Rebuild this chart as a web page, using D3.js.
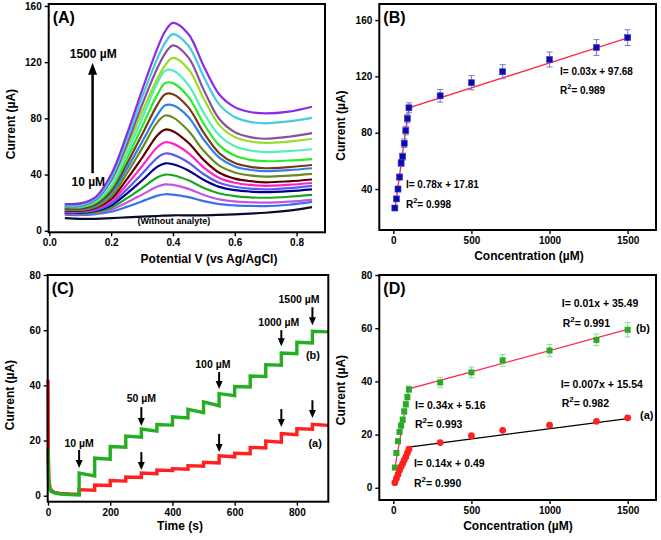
<!DOCTYPE html>
<html lang="en">
<head>
<meta charset="UTF-8">
<title>Sensor response panels</title>
<script src="https://d3js.org/d3.v7.min.js"></script>
<style>
  body { margin: 0; background: #fff; }
  svg { display: block; font-family: "Liberation Sans", Arial, sans-serif; font-weight: bold; }
  .axis text { font-family: "Liberation Sans", Arial, sans-serif; font-size: 10px; font-weight: bold; fill: #000; }
  .axis line { stroke: #000; stroke-width: 1.4; }
</style>
</head>
<body>
<svg id="chart" width="661" height="540"></svg>
<script>
// ---------- (A) DPV curves ----------
const potentials = [0.05, 0.10, 0.15, 0.20, 0.25, 0.30, 0.35, 0.375, 0.40, 0.45, 0.50, 0.55, 0.60, 0.65, 0.70, 0.775, 0.85];
const dpvLabels = ["blank", "10", "20", "30", "40", "50", "60", "70", "80", "90", "100", "300", "500", "700", "1000", "1300", "1500"];
const dpvCurrents = [
  [9.0, 8.5, 8.5, 9.0, 9.5, 10.0, 10.5, 10.8, 11.0, 11.0, 11.0, 11.3, 11.7, 12.2, 12.8, 14.3, 16.8],
  [11.5, 11.2, 11.9, 13.5, 17.0, 20.9, 25.0, 26.0, 25.7, 23.9, 21.1, 19.0, 18.1, 17.7, 17.5, 18.5, 20.5],
  [12.0, 11.7, 12.6, 14.9, 20.0, 25.7, 31.5, 33.0, 32.6, 29.8, 25.5, 22.3, 20.9, 20.3, 20.0, 20.7, 22.0],
  [12.5, 12.2, 13.3, 16.4, 23.0, 30.4, 38.1, 40.0, 39.5, 35.9, 30.4, 26.5, 24.7, 23.8, 23.5, 24.2, 25.5],
  [13.0, 12.7, 14.1, 17.9, 26.3, 35.8, 45.6, 48.0, 47.3, 42.9, 36.1, 31.2, 28.9, 27.9, 27.5, 28.2, 29.5],
  [13.5, 13.2, 14.7, 19.3, 29.3, 40.5, 52.1, 55.0, 54.2, 48.6, 40.2, 34.1, 31.3, 30.0, 29.5, 30.4, 32.0],
  [14.0, 13.7, 15.5, 20.9, 32.6, 45.9, 59.6, 63.0, 62.0, 55.3, 45.0, 37.6, 34.2, 32.6, 32.0, 32.7, 34.0],
  [14.5, 14.2, 16.2, 22.6, 36.4, 51.9, 68.0, 72.0, 70.9, 62.6, 50.3, 41.3, 37.1, 35.3, 34.5, 35.2, 36.5],
  [15.0, 14.7, 17.0, 24.4, 40.5, 58.6, 77.3, 82.0, 80.7, 71.1, 56.8, 46.3, 41.5, 39.4, 38.5, 39.2, 40.5],
  [15.5, 15.2, 18.1, 26.7, 43.8, 63.2, 82.6, 89.3, 89.3, 81.0, 64.8, 52.0, 45.8, 43.4, 42.5, 43.2, 44.5],
  [16.0, 15.7, 18.9, 28.3, 47.2, 68.5, 89.8, 97.2, 97.2, 87.8, 69.6, 55.2, 48.2, 45.5, 44.5, 45.3, 46.8],
  [17.0, 16.7, 20.1, 30.4, 50.8, 74.0, 97.1, 105.1, 105.1, 95.3, 76.1, 60.8, 53.5, 50.5, 49.5, 50.0, 51.0],
  [17.5, 17.2, 20.9, 32.1, 54.6, 79.9, 105.3, 114.0, 114.0, 103.8, 83.7, 67.8, 60.1, 57.1, 56.0, 56.7, 58.0],
  [19.0, 19.0, 23.2, 35.6, 58.5, 84.5, 108.4, 117.8, 123.0, 115.1, 94.0, 75.2, 66.7, 63.5, 62.5, 63.5, 65.3],
  [17.5, 17.7, 22.1, 35.8, 61.0, 89.6, 116.0, 126.3, 132.0, 123.4, 100.1, 79.5, 70.2, 66.6, 65.5, 66.9, 69.5],
  [18.0, 18.2, 22.9, 37.5, 64.4, 94.9, 122.9, 133.9, 140.0, 131.7, 109.5, 89.8, 81.0, 77.5, 76.5, 77.8, 80.3],
  [19.0, 19.5, 24.0, 40.0, 68.0, 100.0, 130.0, 142.0, 148.0, 140.0, 117.0, 97.0, 88.0, 84.5, 83.5, 84.8, 88.3]
];
const dpvColors = ["#0a0a30", "#3a72e8", "#c455e6", "#1aa81a", "#00008f", "#5b5bf0", "#ff22c4", "#5e0000",
  "#6b8a1e", "#2f80e8", "#7a3a1a", "#28ec28", "#50eec0", "#99dd2a", "#8a4f9c", "#44ccdd", "#8a2be8"];

// ---------- (B) calibration, DPV ----------
const conc = [10, 20, 30, 40, 50, 60, 70, 80, 90, 100, 300, 500, 700, 1000, 1300, 1500];
const peakB = [26.5, 33, 40, 48.5, 58.5, 63, 72.5, 81.5, 90, 97.7, 106.2, 115.5, 123.3, 132, 140.5, 147.5];
const errB = [1.5, 1.5, 2, 2, 2.5, 2.5, 3, 3, 3, 3.5, 4.5, 5, 5, 5.3, 5.6, 5.6];
const fitB = [[10, 25.5], [100, 97.7], [1500, 147.3]];

// ---------- (C) amperometry ----------
const stepTimes = [100, 150, 200, 250, 300, 350, 400, 450, 500, 550, 600, 650, 700, 750, 800, 850];
const runEnd = 900;
const decayTimes = [0, 1, 3, 6, 10, 20, 40, 70, 100];
const greenDecay = [17, 8, 4, 2.5, 1.5, 1.0, 0.6, 0.4, 0.3];
const redDecay = [42, 15, 6, 3, 2, 1.2, 0.8, 0.6, 0.5];
const greenStart = [8.2, 13.6, 17.8, 21.6, 24.2, 25.8, 28.6, 31.3, 34.0, 37.0, 39.6, 43.4, 47.5, 51.7, 55.6, 59.6];
const greenEnd = [7.2, 13.2, 17.6, 21.2, 23.4, 25.6, 28.2, 30.1, 32.6, 36.3, 39.4, 43.2, 47.3, 51.5, 55.4, 59.4];
const redStart = [2.2, 3.9, 5.5, 6.8, 8.2, 9.3, 9.8, 10.9, 12.1, 14.5, 15.4, 17.5, 19.8, 22.5, 24.3, 25.9];
const redEnd = [2.0, 3.7, 5.3, 6.6, 8.0, 9.1, 9.6, 10.7, 11.9, 14.1, 15.2, 17.3, 19.4, 22.1, 24.1, 25.5];
// arrows: time, top and tip current, label
const arrowsGreen = [
  { t: 100, top: 16.6, tip: 10.0, label: "10 µM", lt: 100, ly: 17.8 },
  { t: 300, top: 32.1, tip: 25.3, label: "50 µM", lt: 300, ly: 34.0 },
  { t: 550, top: 44.8, tip: 38.7, label: "100 µM", lt: 530, ly: 46.4 },
  { t: 750, top: 60.0, tip: 54.2, label: "1000 µM", lt: 742, ly: 61.6 },
  { t: 850, top: 68.3, tip: 61.8, label: "1500 µM", lt: 807, ly: 70.0 }
];
const arrowsRed = [
  { t: 300, top: 15.8, tip: 9.3 }, { t: 550, top: 22.4, tip: 15.8 },
  { t: 750, top: 31.4, tip: 24.9 }, { t: 850, top: 34.6, tip: 28.2 }
];

// ---------- (D) calibration, amperometry ----------
const peakDb = [7.6, 13.1, 17.5, 21, 23.4, 25.6, 28.7, 31.4, 34.1, 37, 39.6, 43.4, 47.9, 51.6, 55.6, 59.4];
const errDb = [0.8, 0.8, 0.8, 0.9, 0.9, 1, 1, 1.1, 1.1, 1.2, 1.9, 2, 2.2, 2.3, 2.2, 2.7];
const peakDa = [1.9, 3.5, 5, 6.6, 7.9, 9.1, 10.4, 11.6, 13.1, 14.5, 17, 19.6, 21.6, 23.5, 25, 26.3];
const fitDb = [[10, 7.5], [100, 37.2], [1500, 59.6]];
const fitDa = [[10, 2.0], [100, 15.3], [1500, 26.0]];

const svg = d3.select("#chart");

function makePanel(box, xDom, yDom) {
  const x = d3.scaleLinear().domain(xDom).range([box.left, box.right]);
  const y = d3.scaleLinear().domain(yDom).range([box.bottom, box.top]);
  return { g: svg.append("g"), x, y, box };
}

function addAxes(p, xTicks, yTicks, xFmt) {
  p.g.append("g").attr("class", "axis").attr("transform", `translate(0,${p.box.bottom})`)
    .call(d3.axisBottom(p.x).tickValues(xTicks).tickFormat(xFmt).tickSize(4).tickPadding(3))
    .call(g => g.select(".domain").remove());
  p.g.append("g").attr("class", "axis").attr("transform", `translate(${p.box.left},0)`)
    .call(d3.axisLeft(p.y).tickValues(yTicks).tickFormat(d3.format("d")).tickSize(4).tickPadding(3))
    .call(g => g.select(".domain").remove());
}

function frame(p, tag) {
  const b = p.box;
  p.g.append("rect").attr("x", b.left).attr("y", b.top)
    .attr("width", b.right - b.left).attr("height", b.bottom - b.top)
    .attr("fill", "none").attr("stroke", "#000").attr("stroke-width", 2);
  p.g.append("text").attr("x", b.left + 4).attr("y", b.top + 19)
    .style("font-size", "16px").text(tag);
}

function titles(p, xt, xtX, xtY, ytY) {
  p.g.append("text").attr("x", xtX).attr("y", xtY).attr("text-anchor", "middle")
    .style("font-size", "12px").text(xt);
  p.g.append("text").attr("transform", `translate(${p.box.left - 34},${ytY}) rotate(-90)`)
    .attr("text-anchor", "middle").style("font-size", "12px").text("Current (µA)");
}

function label(p, x, y, txt, size, anchor) {
  return p.g.append("text").attr("x", p.x(x)).attr("y", p.y(y))
    .attr("text-anchor", anchor || "start").style("font-size", size + "px").text(txt);
}

function rsq(p, x, y, val, size) {
  const t = p.g.append("text").attr("x", p.x(x)).attr("y", p.y(y)).style("font-size", size + "px");
  t.append("tspan").text("R");
  t.append("tspan").attr("dy", -5).style("font-size", (size * 0.75) + "px").text("2");
  t.append("tspan").attr("dy", 5).text("= " + val);
}

function arrowDown(p, t, top, tip, lw, hw, hh) {
  const X = p.x(t), Y1 = p.y(top), Y2 = p.y(tip);
  p.g.append("line").attr("x1", X).attr("x2", X).attr("y1", Y1).attr("y2", Y2 - hh + 1)
    .attr("stroke", "#000").attr("stroke-width", lw);
  p.g.append("path").attr("d", `M${X - hw / 2},${Y2 - hh}L${X + hw / 2},${Y2 - hh}L${X},${Y2}Z`).attr("fill", "#000");
}

// ===== Panel A =====
const pA = makePanel({ left: 48.7, top: 4, right: 325, bottom: 232.3 }, [-0.002, 0.892], [-1.1, 161.4]);
addAxes(pA, [0, 0.2, 0.4, 0.6, 0.8], [0, 40, 80, 120, 160], d3.format(".1f"));
const lineA = d3.line().x((d, i) => pA.x(potentials[i])).y(d => pA.y(d)).curve(d3.curveCatmullRom.alpha(0.5));
pA.g.append("g").selectAll("path").data(dpvCurrents).join("path")
  .attr("d", lineA).attr("fill", "none")
  .attr("stroke", (d, i) => dpvColors[i]).attr("stroke-width", 2.2);
// concentration arrow
{
  const X = pA.x(0.14), Yb = pA.y(41), Yt = pA.y(119.5);
  pA.g.append("line").attr("x1", X).attr("x2", X).attr("y1", Yb).attr("y2", Yt + 10)
    .attr("stroke", "#000").attr("stroke-width", 2.5);
  pA.g.append("path").attr("d", `M${X - 4.5},${Yt + 12}L${X + 4.5},${Yt + 12}L${X},${Yt}Z`).attr("fill", "#000");
}
label(pA, 0.142, 123.3, "1500 µM", 12, "middle");
label(pA, 0.126, 32.2, "10 µM", 12, "middle");
label(pA, 0.403, 4.7, "(Without analyte)", 9, "middle");
frame(pA, "(A)");
titles(pA, "Potential V (vs Ag/AgCl)", 209, 263, 124);

// ===== Panel B =====
const pB = makePanel({ left: 379.3, top: 4, right: 656, bottom: 230 }, [-89.6, 1681.3], [10.9, 171.4]);
addAxes(pB, [0, 500, 1000, 1500], [40, 80, 120, 160], d3.format("d"));
const fitLine = p => d3.line().x(d => p.x(d[0])).y(d => p.y(d[1]));
pB.g.append("path").attr("d", fitLine(pB)(fitB)).attr("fill", "none").attr("stroke", "#ff2a50").attr("stroke-width", 1.4);
const eb = pB.g.append("g").attr("stroke", "#7878c8").attr("stroke-width", 1);
conc.forEach((c, i) => {
  const X = pB.x(c), lo = pB.y(peakB[i] - errB[i]), hi = pB.y(peakB[i] + errB[i]);
  eb.append("line").attr("x1", X).attr("x2", X).attr("y1", lo).attr("y2", hi);
  eb.append("line").attr("x1", X - 3).attr("x2", X + 3).attr("y1", lo).attr("y2", lo);
  eb.append("line").attr("x1", X - 3).attr("x2", X + 3).attr("y1", hi).attr("y2", hi);
});
pB.g.append("g").selectAll("rect").data(conc).join("rect")
  .attr("x", d => pB.x(d) - 3).attr("y", (d, i) => pB.y(peakB[i]) - 3)
  .attr("width", 6).attr("height", 6).attr("fill", "#0c0ca8").attr("stroke", "#3a3ae0").attr("stroke-width", 0.6);
label(pB, 1067, 120.7, "I= 0.03x + 97.68", 10);
rsq(pB, 1067, 107.2, "0.989", 10);
label(pB, 81, 40.5, "I= 0.78x + 17.81", 10);
rsq(pB, 81, 26.3, "0.998", 10);
frame(pB, "(B)");
titles(pB, "Concentration (µM)", 529, 260, 125.5);

// ===== Panel C =====
const pC = makePanel({ left: 47.7, top: 275, right: 328.3, bottom: 501.7 }, [-1, 901], [-2.17, 80]);
addAxes(pC, [0, 200, 400, 600, 800], [0, 20, 40, 60, 80], d3.format("d"));
function trace(decay, starts, ends) {
  const pts = decayTimes.map((t, i) => [t, decay[i]]);
  stepTimes.forEach((t, i) => {
    pts.push([t, starts[i]]);
    pts.push([i < stepTimes.length - 1 ? stepTimes[i + 1] : runEnd, ends[i]]);
  });
  return pts;
}
const lineC = d3.line().x(d => pC.x(d[0])).y(d => pC.y(d[1]));
pC.g.append("path").attr("d", lineC(trace(redDecay, redStart, redEnd)))
  .attr("fill", "none").attr("stroke", "#ff2020").attr("stroke-width", 3.4);
pC.g.append("path").attr("d", lineC(trace(greenDecay, greenStart, greenEnd)))
  .attr("fill", "none").attr("stroke", "#22b022").attr("stroke-width", 3.4);
arrowsGreen.forEach(a => {
  arrowDown(pC, a.t, a.top, a.tip, 2, 7, 8);
  label(pC, a.lt, a.ly, a.label, 10.5, "middle");
});
arrowsRed.forEach(a => arrowDown(pC, a.t, a.top, a.tip, 2, 7, 8));
label(pC, 829, 49.5, "(b)", 11);
label(pC, 837, 17.7, "(a)", 11);
frame(pC, "(C)");
titles(pC, "Time (s)", 180, 530, 395);

// ===== Panel D =====
const pD = makePanel({ left: 379.3, top: 275, right: 656, bottom: 500 }, [-89.6, 1681.3], [-4.6, 80]);
addAxes(pD, [0, 500, 1000, 1500], [0, 20, 40, 60, 80], d3.format("d"));
pD.g.append("path").attr("d", fitLine(pD)(fitDb)).attr("fill", "none").attr("stroke", "#ff2a50").attr("stroke-width", 1.3);
pD.g.append("path").attr("d", fitLine(pD)(fitDa)).attr("fill", "none").attr("stroke", "#000").attr("stroke-width", 1.3);
const ebD = pD.g.append("g").attr("stroke", "#88e088").attr("stroke-width", 1);
conc.forEach((c, i) => {
  const X = pD.x(c), lo = pD.y(peakDb[i] - errDb[i]), hi = pD.y(peakDb[i] + errDb[i]);
  ebD.append("line").attr("x1", X).attr("x2", X).attr("y1", lo).attr("y2", hi);
  ebD.append("line").attr("x1", X - 3).attr("x2", X + 3).attr("y1", lo).attr("y2", lo);
  ebD.append("line").attr("x1", X - 3).attr("x2", X + 3).attr("y1", hi).attr("y2", hi);
});
pD.g.append("g").selectAll("rect").data(conc).join("rect")
  .attr("x", d => pD.x(d) - 3).attr("y", (d, i) => pD.y(peakDb[i]) - 3)
  .attr("width", 6).attr("height", 6).attr("fill", "#2aa82a");
pD.g.append("g").selectAll("circle").data(conc).join("circle")
  .attr("cx", d => pD.x(d)).attr("cy", (d, i) => pD.y(peakDa[i]))
  .attr("r", 3.4).attr("fill", "#ff2020");
label(pD, 1078, 67.8, "I= 0.01x + 35.49", 10.5);
rsq(pD, 1084, 60.3, "0.991", 10.5);
label(pD, 1553, 58.7, "(b)", 11);
label(pD, 1071, 37.7, "I= 0.007x + 15.54", 10.5);
rsq(pD, 1078, 30.5, "0.982", 10.5);
label(pD, 1579, 25.8, "(a)", 11);
label(pD, 139, 29.5, "I= 0.34x + 5.16", 10.5);
rsq(pD, 139, 22.3, "0.993", 10.5);
label(pD, 132, 7.7, "I= 0.14x + 0.49", 10.5);
rsq(pD, 132, 0.4, "0.990", 10.5);
frame(pD, "(D)");
titles(pD, "Concentration (µM)", 518, 530, 390);
</script>
</body>
</html>
